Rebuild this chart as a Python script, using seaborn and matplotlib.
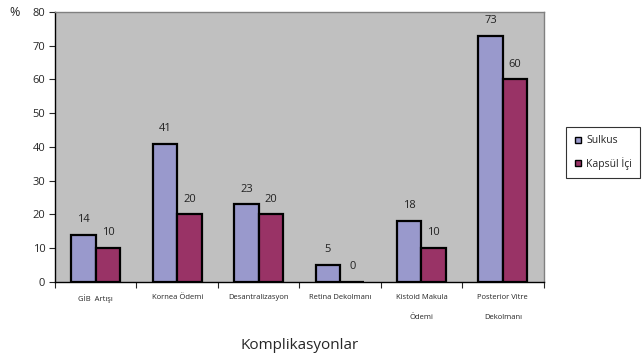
import pandas as pd
import numpy as np
import matplotlib.pyplot as plt
import seaborn as sns

# -----------------------------
# Data
# -----------------------------
categories = ["GİB  Artışı", "Kornea Ödemi", "Desantralizasyon", "Retina Dekolmanı",
              "Kistoid Makula\nÖdemi", "Posterior Vitre\nDekolmanı"]
sulkus = [14, 41, 23, 5, 18, 73]
kapsul = [10, 20, 20, 0, 10, 60]
series_names = ["Sulkus", "Kapsül İçi"]
y_ticks = [0, 10, 20, 30, 40, 50, 60, 70, 80]

df = pd.DataFrame({
    "kategori": categories * 2,
    "deger": sulkus + kapsul,
    "grup": [series_names[0]] * len(categories) + [series_names[1]] * len(categories),
})

# -----------------------------
# Plot
# -----------------------------
sns.set_style("white")
plt.rcParams["font.family"] = ["Open Sans", "DejaVu Sans"]

fig = plt.figure(figsize=(6.42, 3.6), dpi=100)
ax = fig.add_axes([0.0857, 0.217, 0.761, 0.75])
ax.set_facecolor("#c0c0c0")

palette = {series_names[0]: "#9999cc", series_names[1]: "#993366"}
sns.barplot(data=df, x="kategori", y="deger", hue="grup", palette=palette,
            width=0.6, edgecolor="black", linewidth=1.6, saturation=1,
            ax=ax, legend=False)

# value labels
for container in ax.containers:
    ax.bar_label(container, padding=7, fontsize=8, color="#222222")

ax.set_ylim(0, 80)
ax.set_yticks(y_ticks)
ax.set_xlim(-0.5, len(categories) - 0.5)
ax.tick_params(axis="y", labelsize=8, length=4, width=0.8, direction="out", left=True, pad=3)
ax.tick_params(axis="x", which="major", length=0, labelsize=5.5, pad=9)
ax.set_xticks(np.arange(len(categories) + 1) - 0.5, minor=True)
ax.tick_params(axis="x", which="minor", length=4, width=0.8, direction="out", bottom=True)
for lbl in ax.get_xticklabels():
    lbl.set_linespacing(3.6)
    lbl.set_verticalalignment("top")

for side in ["left", "bottom"]:
    ax.spines[side].set_color("black")
    ax.spines[side].set_linewidth(1.0)
for side in ["top", "right"]:
    ax.spines[side].set_color("#808080")
    ax.spines[side].set_linewidth(1.0)

ax.set_xlabel("Komplikasyonlar", fontsize=11, labelpad=12)
ax.set_ylabel("")
fig.text(0.022, 0.965, "%", fontsize=9, va="center", ha="center")

# legend
handles = [plt.Line2D([], [], marker="s", linestyle="", markersize=4.5,
                      markerfacecolor=palette[n], markeredgecolor="black",
                      markeredgewidth=1.0) for n in series_names]
leg = fig.legend(handles, series_names, loc="upper left",
                 bbox_to_anchor=(0.882, 0.647), fontsize=7.5, frameon=True,
                 fancybox=False, edgecolor="black", handletextpad=0.4,
                 handlelength=0.7, borderpad=0.8, labelspacing=1.0,
                 borderaxespad=0)
leg.get_frame().set_linewidth(0.8)

plt.savefig("out.png", dpi=100)
plt.close()
